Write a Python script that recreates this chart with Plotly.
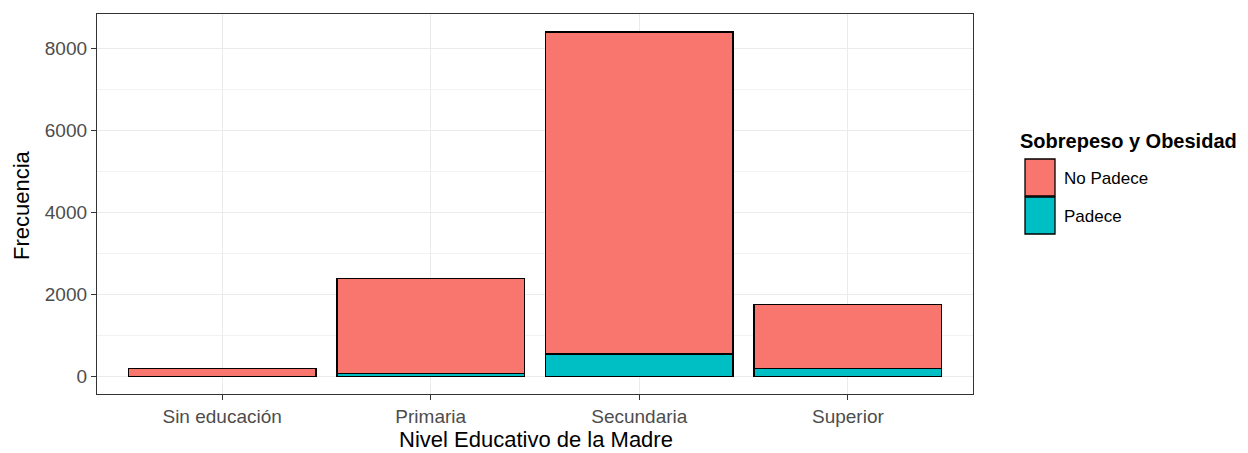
import plotly.graph_objects as go

categories = ["Sin educación", "Primaria", "Secundaria", "Superior"]
padece = [10, 85, 550, 200]
no_padece = [190, 2305, 7850, 1560]

col_no = "#F8766D"
col_si = "#00BFC4"

fig = go.Figure()
fig.add_trace(go.Bar(x=categories, y=padece, name="Padece", marker=dict(color=col_si, line=dict(color="black", width=1.3)), width=0.9, showlegend=False))
fig.add_trace(go.Bar(x=categories, y=no_padece, name="No Padece", marker=dict(color=col_no, line=dict(color="black", width=1.3)), width=0.9, showlegend=False))

font = "Liberation Sans, Arial, sans-serif"
fig.update_layout(
    barmode="stack",
    width=1248, height=453,
    margin=dict(l=97, r=275, t=14, b=59),
    plot_bgcolor="white", paper_bgcolor="white",
    font=dict(family=font, color="#4D4D4D"),
    bargap=0.1,
)
fig.update_xaxes(
    range=[-0.6, 3.6], showgrid=True, gridcolor="#EBEBEB", gridwidth=1.2,
    showline=True, mirror=True, linecolor="#333333", linewidth=1.3,
    ticks="outside", ticklen=5, tickcolor="#333333", tickwidth=1.1,
    tickfont=dict(size=19, color="#4D4D4D", family=font),
    zeroline=False, automargin=False,
)
fig.update_yaxes(
    range=[-421, 8836], tickvals=[0, 2000, 4000, 6000, 8000],
    showgrid=True, gridcolor="#EBEBEB", gridwidth=1.2,
    minor=dict(tickvals=[1000, 3000, 5000, 7000], showgrid=True, gridcolor="#F2F2F2", gridwidth=0.7),
    showline=True, mirror=True, linecolor="#333333", linewidth=1.3,
    ticks="outside", ticklen=5, tickcolor="#333333", tickwidth=1.1,
    tickfont=dict(size=19, color="#4D4D4D", family=font),
    zeroline=False, automargin=False,
)

def px_x(X):
    return (X - 97) / 876

def px_y(Y):
    return 1 - (Y - 14) / 380

# axis titles
fig.add_annotation(xref="paper", yref="paper", x=px_x(536), y=px_y(439),
                   text="Nivel Educativo de la Madre", showarrow=False, xanchor="center", yanchor="middle",
                   font=dict(size=22, color="black", family=font))
fig.add_annotation(xref="paper", yref="paper", x=px_x(21), y=px_y(205),
                   text="Frecuencia", showarrow=False, xanchor="center", yanchor="middle", textangle=-90,
                   font=dict(size=22, color="black", family=font))

# custom legend (ggplot style)
legend_items = [("No Padece", col_no), ("Padece", col_si)]
fig.add_annotation(xref="paper", yref="paper", x=px_x(1018), y=px_y(141),
                   text="<b>Sobrepeso y Obesidad</b>", showarrow=False, xanchor="left", yanchor="middle",
                   font=dict(size=20, color="black", family=font))
for i, (lab, c) in enumerate(legend_items):
    y0 = 159 + i * 38
    fig.add_shape(type="rect", xref="paper", yref="paper",
                  x0=px_x(1025), x1=px_x(1055),
                  y0=px_y(y0 + 37), y1=px_y(y0),
                  fillcolor=c, line=dict(color="black", width=1.3))
    fig.add_annotation(xref="paper", yref="paper", x=px_x(1062), y=px_y(y0 + 19),
                       text=lab, showarrow=False, xanchor="left", yanchor="middle",
                       font=dict(size=17, color="black", family=font))

fig.write_html("out.html", config={"displayModeBar": False},
               post_script="document.body.style.margin='0';document.body.style.overflow='hidden';")
